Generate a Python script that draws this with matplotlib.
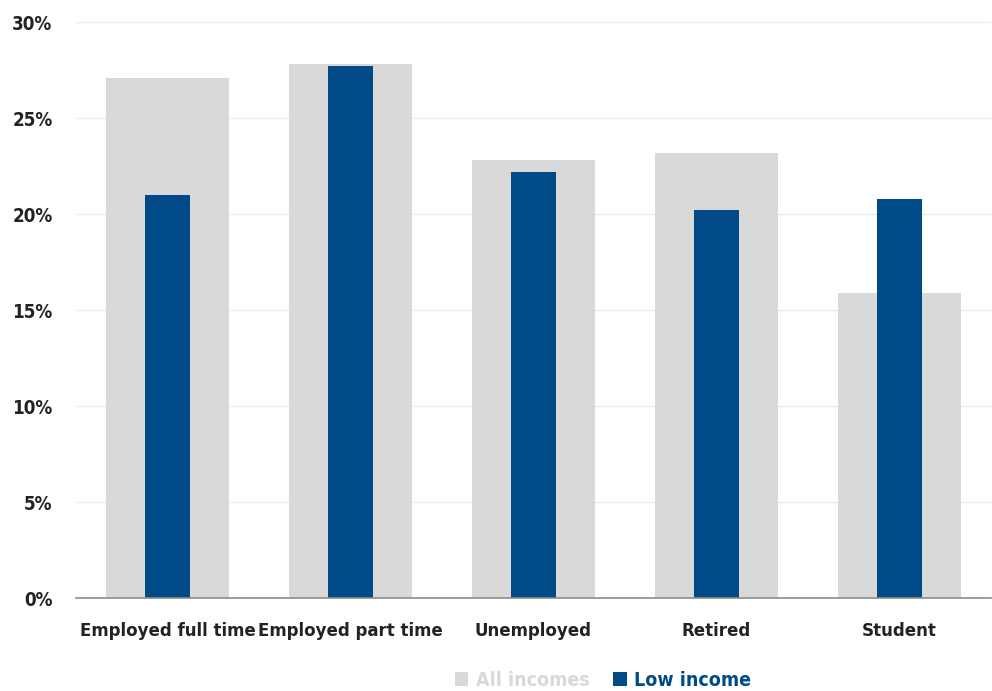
import matplotlib
matplotlib.use("Agg")
import matplotlib.pyplot as plt
import numpy as np

categories = ["Employed full time", "Employed part time", "Unemployed", "Retired", "Student"]
all_incomes = [27.1, 27.8, 22.8, 23.2, 15.9]
low_income = [21.0, 27.7, 22.2, 20.2, 20.8]
yticks = [0, 5, 10, 15, 20, 25, 30]
ytick_labels = ["0%", "5%", "10%", "15%", "20%", "25%", "30%"]

plt.rcParams['font.family'] = ['DejaVu Sans']
plt.rcParams['font.stretch'] = 'condensed'

GRAY = "#D9D9D9"
BLUE = "#004B87"

fig = plt.figure(figsize=(9.92, 6.91), dpi=100)
ax = fig.add_axes([76/992, 1-598/691, 915/992, 576/691])

x = np.arange(len(categories))
ax.bar(x, all_incomes, width=0.667, color=GRAY, label="All incomes", zorder=2)
ax.bar(x, low_income, width=0.25, color=BLUE, label="Low income", zorder=3)

ax.set_xlim(-0.5, len(categories) - 0.5)
ax.set_ylim(0, 30)
ax.set_yticks(yticks)
ax.set_yticklabels(ytick_labels, fontsize=13.5, fontweight='bold', color="#222222", fontstretch='condensed')
ax.set_xticks(x)
ax.set_xticklabels(categories, fontsize=13.3, fontweight='bold', color="#222222", fontstretch='condensed')
ax.tick_params(axis='both', length=0)
ax.tick_params(axis='x', pad=17)
ax.tick_params(axis='y', pad=17)

ax.grid(axis='y', color="#EBEBEB", linewidth=1, zorder=0)
for s in ["top", "right", "left"]:
    ax.spines[s].set_visible(False)
ax.spines["bottom"].set_color("#8C8C8C")
ax.spines["bottom"].set_linewidth(1.2)
ax.spines["bottom"].set_zorder(4)

leg = fig.legend(loc="center", bbox_to_anchor=(603/992, 1-680/691), ncol=2, frameon=False,
                 handlelength=0.7, handleheight=0.7, handletextpad=0.4, columnspacing=1.2,
                 prop={'size': 14, 'weight': 'bold', 'stretch': 'condensed'})
for txt, c in zip(leg.get_texts(), [GRAY, BLUE]):
    txt.set_color(c)

fig.savefig("out.png", dpi=100)
